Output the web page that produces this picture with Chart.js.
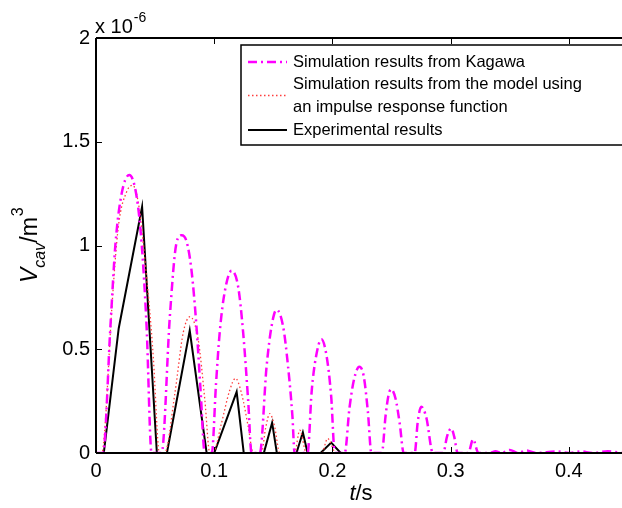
<!DOCTYPE html>
<html>
<head>
<meta charset="utf-8">
<script src="https://cdn.jsdelivr.net/npm/chart.js@4.4.1/dist/chart.umd.min.js"></script>
<style>
  html, body { margin:0; padding:0; background:#fff; }
  #c { display:block; }
</style>
</head>
<body>
<canvas id="c" width="622" height="508"></canvas>
<script>
// values in units of 1e-6 m^3, time in s
const kagawaT = [0, 0.006, 0.0122, 0.0165, 0.0217, 0.0282, 0.0344, 0.0386, 0.0428, 0.047,
  0.0555, 0.0625, 0.068, 0.0725, 0.0766, 0.0808, 0.085, 0.0885, 0.092,
  0.098, 0.1015, 0.1048, 0.109, 0.1147, 0.1203, 0.1245, 0.1287, 0.1316,
  0.1386, 0.1443, 0.1485, 0.1527, 0.1583, 0.1625, 0.1662, 0.168,
  0.179, 0.1825, 0.186, 0.1907, 0.195, 0.199, 0.202,
  0.2104, 0.2145, 0.2185, 0.2228, 0.2265, 0.230, 0.233,
  0.2418, 0.245, 0.2475, 0.2497, 0.2535, 0.257, 0.2603,
  0.2696, 0.2722, 0.2752, 0.2795, 0.285,
  0.2938, 0.297, 0.3006, 0.303, 0.306,
  0.315, 0.319, 0.3235,
  0.333, 0.338, 0.343, 0.35, 0.357, 0.364, 0.372, 0.39, 0.40, 0.41, 0.42, 0.433, 0.445];
const kagawaV = [0, 0, 0.61, 1.01, 1.25, 1.34, 1.235, 1.01, 0.61, 0,
  0, 0.66, 1.01, 1.05, 1.02, 0.88, 0.61, 0.3, 0,
  0, 0.33, 0.59, 0.78, 0.878, 0.80, 0.58, 0.255, 0,
  0, 0.416, 0.61, 0.69, 0.61, 0.416, 0.175, 0,
  0, 0.30, 0.46, 0.548, 0.47, 0.27, 0,
  0, 0.22, 0.36, 0.416, 0.37, 0.2, 0,
  0, 0.18, 0.28, 0.307, 0.26, 0.14, 0,
  0, 0.15, 0.223, 0.17, 0,
  0, 0.08, 0.119, 0.08, 0,
  0, 0.066, 0,
  0, 0.008, 0, 0.015, 0, 0.012, 0, 0.008, 0, 0.008, 0, 0.008, 0];

const modelT = [0, 0.005, 0.0076, 0.0133, 0.0189, 0.026, 0.031, 0.036, 0.0414, 0.0486, 0.0527, 0.054,
  0.058, 0.0668, 0.0738, 0.0795, 0.0865, 0.0921, 0.0963,
  0.099, 0.106, 0.113, 0.118, 0.123, 0.1287, 0.133,
  0.140, 0.1435, 0.147, 0.151, 0.1555,
  0.168, 0.1724, 0.178,
  0.191, 0.196, 0.203,
  0.445];
const modelV = [0, 0, 0.127, 0.69, 1.09, 1.26, 1.29, 1.2, 0.93, 0.45, 0.03, 0,
  0, 0.29, 0.58, 0.657, 0.545, 0.255, 0,
  0, 0.14, 0.30, 0.36, 0.29, 0.13, 0,
  0, 0.12, 0.19, 0.13, 0,
  0, 0.11, 0,
  0, 0.07, 0,
  0];

const expT = [0, 0.0066, 0.0192, 0.039, 0.0515, 0.06, 0.0793, 0.0936, 0.1, 0.119, 0.125,
  0.142, 0.149, 0.153, 0.1696, 0.175, 0.179, 0.19, 0.199, 0.207, 0.445];
const expV = [0, 0, 0.60, 1.187, 0, 0, 0.59, 0, 0, 0.295, 0,
  0, 0.146, 0, 0, 0.10, 0, 0, 0.05, 0, 0];

const xTicks = [0, 0.1, 0.2, 0.3, 0.4];
const yTicks = [0, 0.5, 1, 1.5, 2];
const seriesNames = ['Simulation results from Kagawa',
  'Simulation results from the model using|an impulse response function',
  'Experimental results'];

const FONT = '"Liberation Sans", Arial, sans-serif';
const toXY = (ts, vs) => ts.map((t, i) => ({x: t, y: vs[i]}));

const framePlugin = {
  id: 'frame',
  afterDraw(chart){
    const ctx = chart.ctx, a = chart.chartArea;
    const xs = chart.scales.x, ys = chart.scales.y;
    ctx.save();
    ctx.strokeStyle = '#000';
    ctx.lineWidth = 2;
    ctx.beginPath();
    ctx.moveTo(a.left, a.top); ctx.lineTo(a.left, a.bottom);
    ctx.moveTo(a.left, a.bottom); ctx.lineTo(a.right, a.bottom);
    ctx.moveTo(a.left, a.top); ctx.lineTo(a.right, a.top);
    ctx.stroke();
    ctx.lineWidth = 1;
    ctx.beginPath();
    xTicks.forEach(v => {
      const px = Math.round(xs.getPixelForValue(v)) + 0.5;
      ctx.moveTo(px, a.bottom); ctx.lineTo(px, a.bottom - 6);
      ctx.moveTo(px, a.top); ctx.lineTo(px, a.top + 6);
    });
    yTicks.forEach(v => {
      const py = Math.round(ys.getPixelForValue(v)) + 0.5;
      ctx.moveTo(a.left, py); ctx.lineTo(a.left + 6, py);
    });
    ctx.stroke();

    // exponent
    ctx.fillStyle = '#000';
    ctx.textBaseline = 'alphabetic';
    ctx.textAlign = 'left';
    ctx.font = '20px ' + FONT;
    ctx.fillText('x 10', 95, 33);
    const w = ctx.measureText('x 10').width;
    ctx.font = '14px ' + FONT;
    ctx.fillText('-6', 95 + w + 1, 22);

    // x title
    ctx.font = 'italic 22px ' + FONT;
    const tw = ctx.measureText('t').width;
    ctx.font = '22px ' + FONT;
    const sw = ctx.measureText('/s').width;
    let x0 = 361 - (tw + sw) / 2;
    ctx.font = 'italic 22px ' + FONT;
    ctx.fillText('t', x0, 500);
    ctx.font = '22px ' + FONT;
    ctx.fillText('/s', x0 + tw, 500);

    // y title
    ctx.save();
    ctx.translate(37, 283);
    ctx.rotate(-Math.PI / 2);
    let p = 0;
    ctx.font = 'italic 23px ' + FONT;
    ctx.fillText('V', p, 0); p += ctx.measureText('V').width;
    ctx.font = 'italic 16px ' + FONT;
    ctx.fillText('cav', p, 8); p += ctx.measureText('cav').width;
    ctx.font = '23px ' + FONT;
    ctx.fillText('/m', p, 0); p += ctx.measureText('/m').width;
    ctx.font = '16px ' + FONT;
    ctx.fillText('3', p + 1, -14);
    ctx.restore();

    // legend
    const lx = 241, ly = 45, lr = 640, lb = 145;
    ctx.fillStyle = '#fff';
    ctx.fillRect(lx, ly, lr - lx, lb - ly);
    ctx.strokeStyle = '#000';
    ctx.lineWidth = 1.5;
    ctx.strokeRect(lx, ly, lr - lx, lb - ly);
    const ds = chart.data.datasets;
    const rows = [[62], [84, 107], [130]];
    const sampleY = [62, 95.5, 130];
    ds.forEach((d, i) => {
      ctx.save();
      ctx.strokeStyle = d.borderColor;
      ctx.lineWidth = d.borderWidth;
      ctx.setLineDash(d.borderDash || []);
      ctx.beginPath();
      ctx.moveTo(248, sampleY[i]); ctx.lineTo(287, sampleY[i]);
      ctx.stroke();
      ctx.restore();
      ctx.fillStyle = '#000';
      ctx.font = '16.5px ' + FONT;
      ctx.textBaseline = 'middle';
      seriesNames[i].split('|').forEach((line, k) => {
        ctx.fillText(line, 293, rows[i][k]);
      });
    });
    ctx.restore();
  }
};

new Chart(document.getElementById('c').getContext('2d'), {
  type: 'line',
  data: {
    datasets: [
      { label: seriesNames[0], data: toXY(kagawaT, kagawaV), borderColor: '#ff00ff', borderWidth: 2.5,
        borderDash: [9, 4, 2, 4], cubicInterpolationMode: 'monotone', pointRadius: 0, fill: false },
      { label: seriesNames[1], data: toXY(modelT, modelV), borderColor: '#ff3c3c', borderWidth: 1.3,
        borderDash: [1.5, 2.5], cubicInterpolationMode: 'monotone', pointRadius: 0, fill: false },
      { label: seriesNames[2], data: toXY(expT, expV), borderColor: '#000000', borderWidth: 2,
        tension: 0, pointRadius: 0, fill: false }
    ]
  },
  options: {
    responsive: false,
    animation: false,
    layout: { padding: { top: 38, left: 0, right: 0, bottom: 0 } },
    plugins: { legend: { display: false }, tooltip: { enabled: false } },
    scales: {
      x: {
        type: 'linear', min: 0, max: 0.445,
        grid: { display: false, drawTicks: false }, border: { display: false },
        afterBuildTicks: s => { s.ticks = xTicks.map(v => ({ value: v })); },
        afterFit: s => { s.height = 55; },
        ticks: { color: '#000', font: { size: 20, family: FONT }, padding: 6, maxRotation: 0,
          callback: v => String(v) }
      },
      y: {
        type: 'linear', min: 0, max: 2,
        grid: { display: false, drawTicks: false }, border: { display: false },
        afterBuildTicks: s => { s.ticks = yTicks.map(v => ({ value: v })); },
        afterFit: s => { s.width = 96; },
        ticks: { color: '#000', font: { size: 20, family: FONT }, padding: 6,
          callback: v => String(v) }
      }
    }
  },
  plugins: [framePlugin]
});
</script>
</body>
</html>
